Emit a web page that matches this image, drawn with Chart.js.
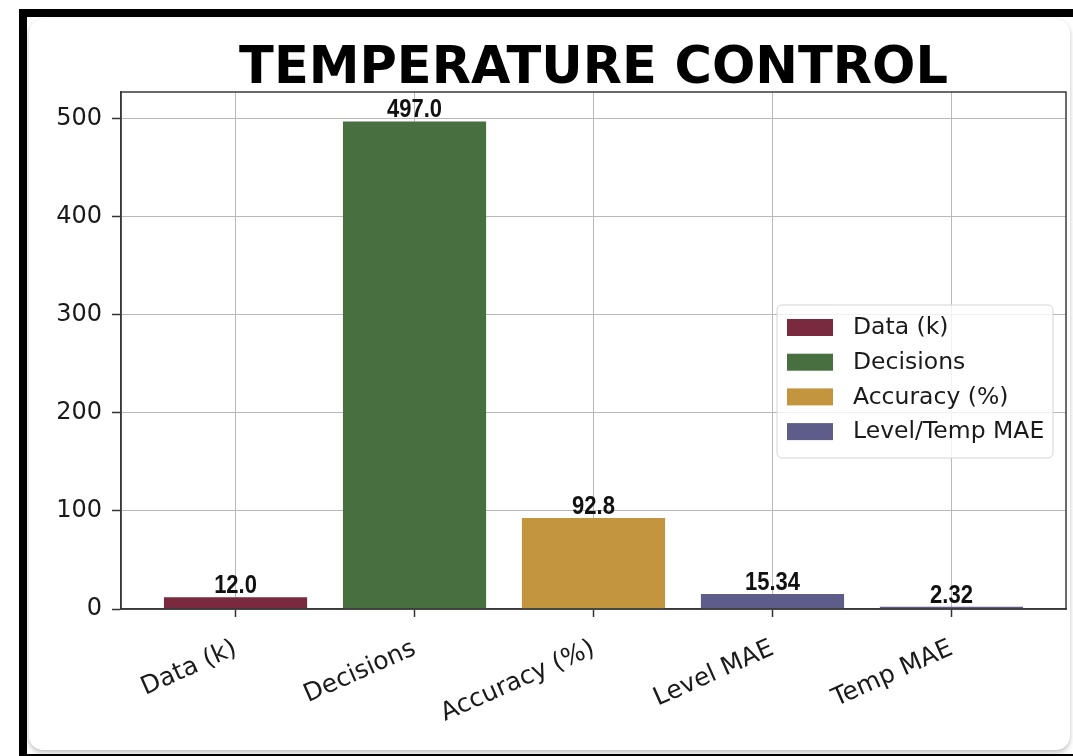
<!DOCTYPE html>
<html>
<head>
<meta charset="utf-8">
<title>Temperature Control</title>
<script src="https://cdn.jsdelivr.net/npm/chart.js@4.4.0/dist/chart.umd.min.js"></script>
<style>
  html, body { margin: 0; padding: 0; background: #fff; }
  body { width: 1073px; height: 756px; position: relative; overflow: hidden; }
  #frame {
    position: absolute; left: 19px; top: 9px; right: 0; bottom: 0;
    border-top: 8px solid #000; border-left: 8px solid #000; border-bottom: 2px solid #000;
  }
  #panel {
    position: absolute; left: 29px; top: 19px; right: 3px; bottom: 6px;
    background: #fff; border-radius: 14px;
    box-shadow: 0 3px 5px rgba(0,0,0,0.22), 0 0 2px rgba(0,0,0,0.08);
  }
  #chart { position: absolute; left: 0; top: 0; }
</style>
</head>
<body>
<div id="frame"></div>
<div id="panel"></div>
<canvas id="chart" width="1073" height="756"></canvas>
<script>
const chartTitle = 'TEMPERATURE CONTROL';
const categories = ['Data (k)', 'Decisions', 'Accuracy (%)', 'Level MAE', 'Temp MAE'];
const values = [12.0, 497.0, 92.8, 15.34, 2.32];
const valueLabels = ['12.0', '497.0', '92.8', '15.34', '2.32'];
const barColors = ['#7a2a3e', '#476f3f', '#c4953f', '#5e5d8a', '#5e5d8a'];
const yTicks = [0, 100, 200, 300, 400, 500];
const yMax = 527;
const legendLabels = ['Data (k)', 'Decisions', 'Accuracy (%)', 'Level/Temp MAE'];
const legendColors = ['#7a2a3e', '#476f3f', '#c4953f', '#5e5d8a'];

const tickFont = { family: '"DejaVu Sans", sans-serif', size: 24 };

// title, frame around plot, value labels and the legend box
const extras = {
  id: 'extras',
  afterDatasetsDraw(chart) {
    const ctx = chart.ctx;
    const meta = chart.getDatasetMeta(0);
    ctx.save();
    ctx.fillStyle = '#111';
    ctx.font = 'bold 25px "Liberation Sans", sans-serif';
    ctx.textAlign = 'center';
    ctx.textBaseline = 'alphabetic';
    meta.data.forEach((bar, i) => {
      // narrow the bold face a little, like a condensed font
      ctx.save();
      ctx.translate(bar.x, bar.y - 4);
      ctx.scale(0.88, 1);
      ctx.fillText(valueLabels[i], 0, 0);
      ctx.restore();
    });
    ctx.restore();
  },
  afterDraw(chart) {
    const ctx = chart.ctx;
    const area = chart.chartArea;
    ctx.save();
    // spines
    ctx.strokeStyle = '#3a3a3a';
    ctx.lineWidth = 1.5;
    ctx.strokeRect(area.left, area.top, area.right - area.left, area.bottom - area.top);

    // title
    ctx.fillStyle = '#000';
    ctx.font = 'bold 51px "DejaVu Sans", sans-serif';
    ctx.textAlign = 'center';
    ctx.textBaseline = 'alphabetic';
    ctx.fillText(chartTitle, (area.left + area.right) / 2, 83);

    // legend
    const bx = area.right - 289, by = area.top + 213, bw = 276, bh = 153;
    ctx.beginPath();
    ctx.roundRect(bx, by, bw, bh, 5);
    ctx.fillStyle = 'rgba(255,255,255,0.8)';
    ctx.fill();
    ctx.strokeStyle = '#d4d4d4';
    ctx.lineWidth = 1;
    ctx.stroke();
    ctx.font = '23.5px "DejaVu Sans", sans-serif';
    ctx.textAlign = 'left';
    ctx.textBaseline = 'middle';
    legendLabels.forEach((lab, i) => {
      const cy = by + 22 + i * 34.7;
      ctx.fillStyle = legendColors[i];
      ctx.fillRect(bx + 10, cy - 8, 46, 17);
      ctx.fillStyle = '#1a1a1a';
      ctx.fillText(lab, bx + 76, cy + 1);
    });
    ctx.restore();
  }
};

new Chart(document.getElementById('chart'), {
  type: 'bar',
  data: {
    datasets: [{
      data: categories.map((c, i) => ({ x: i, y: values[i] })),
      backgroundColor: barColors,
      borderColor: barColors,
      borderWidth: 0,
      barPercentage: 0.8,
      categoryPercentage: 1.0
    }]
  },
  options: {
    responsive: false,
    animation: false,
    devicePixelRatio: 1,
    layout: { padding: { left: 20, top: 92, right: 7, bottom: 0 } },
    plugins: {
      legend: { display: false },
      tooltip: { enabled: false },
      title: { display: false }
    },
    scales: {
      x: {
        type: 'linear',
        min: -0.64,
        max: 4.64,
        offset: false,
        afterBuildTicks: (scale) => { scale.ticks = categories.map((c, i) => ({ value: i })); },
        afterFit: (scale) => { scale.height = 147; },
        ticks: {
          callback: (v) => categories[v],
          maxRotation: 24,
          minRotation: 24,
          padding: 17,
          color: '#1a1a1a',
          font: { family: '"DejaVu Sans", sans-serif', size: 25 }
        },
        grid: { offset: false, color: '#b8b8b8', lineWidth: 1, tickLength: 8, tickColor: '#333', tickWidth: 1.5 },
        border: { display: true, color: '#3a3a3a', width: 1.5 }
      },
      y: {
        min: 0,
        max: yMax,
        afterBuildTicks: (scale) => { scale.ticks = yTicks.map(v => ({ value: v })); },
        afterFit: (scale) => { scale.width = 101; },
        ticks: {
          padding: 10,
          color: '#1a1a1a',
          font: tickFont
        },
        grid: { color: '#b8b8b8', lineWidth: 1, tickLength: 9, tickColor: '#333', tickWidth: 1.5 },
        border: { display: true, color: '#3a3a3a', width: 1.5 }
      }
    }
  },
  plugins: [extras]
});
</script>
</body>
</html>
